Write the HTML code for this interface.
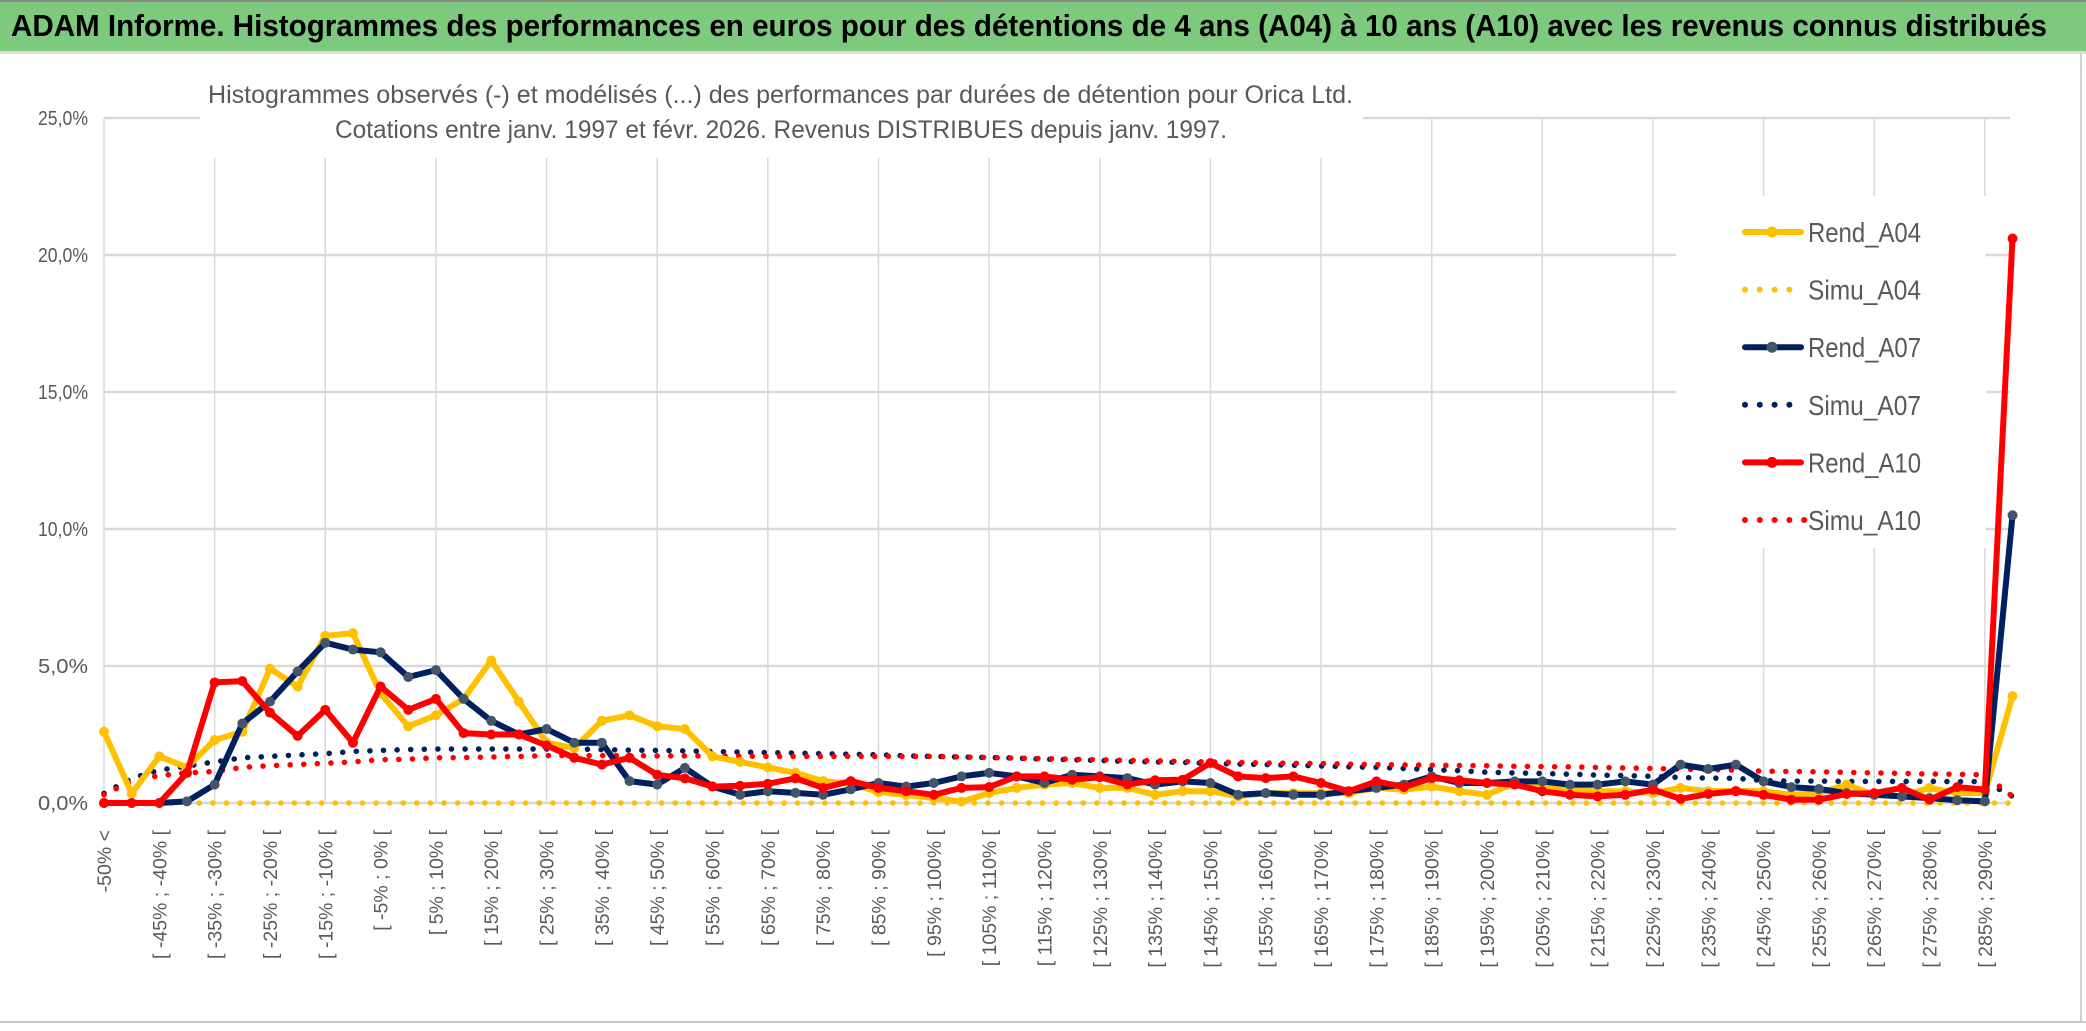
<!DOCTYPE html>
<html><head><meta charset="utf-8"><style>
html,body{margin:0;padding:0;background:#fff;}
svg{display:block;font-family:"Liberation Sans",sans-serif;}
</style></head><body>
<svg id="chart" width="2086" height="1031" viewBox="0 0 2086 1031">
<rect x="0" y="0" width="2086" height="1031" fill="#fff"/>
<rect x="0" y="0" width="2086" height="51" fill="#7DC97D"/>
<rect x="0" y="0" width="2086" height="2" fill="#8a8a8a"/>
<rect x="0" y="51" width="2086" height="3" fill="#dcdcdc"/>
<text x="11" y="36" font-size="31" font-weight="bold" fill="#000" textLength="2036" lengthAdjust="spacingAndGlyphs">ADAM Informe. Histogrammes des performances en euros pour des détentions de 4 ans (A04) à 10 ans (A10) avec les revenus connus distribués</text>
<rect x="2080" y="54" width="2" height="968" fill="#d0d0d0"/>
<rect x="0" y="1021" width="2086" height="2" fill="#c8c8c8"/>
<g id="grid"></g>
<rect x="200" y="62" width="1163" height="96" fill="#fff"/>
<text x="208" y="103" font-size="25" fill="#595959" textLength="1145" lengthAdjust="spacingAndGlyphs">Histogrammes observés (-) et modélisés (...) des performances par durées de détention pour Orica Ltd.</text>
<text x="335" y="138" font-size="25" fill="#595959" textLength="892" lengthAdjust="spacingAndGlyphs">Cotations entre janv. 1997 et févr. 2026. Revenus DISTRIBUES depuis janv. 1997.</text>
<g id="yaxis"></g>
<g id="xaxis"></g>
<g id="series"></g>
<g id="legend"></g>
</svg>
<script>
const categories = (function(){const a=["-50% <"];for(let k=1;k<70;k++){a.push("[ "+(-55+5*k)+"% ; "+(-50+5*k)+"% [");}return a;})();
const yTicks = [0,5,10,15,20,25];
const yTickLabels = ["0,0%","5,0%","10,0%","15,0%","20,0%","25,0%"];
const rendA04 = [2.6,0.35,1.7,1.3,2.3,2.6,4.9,4.25,6.1,6.2,4.0,2.8,3.2,3.8,5.2,3.7,2.2,2.0,3.0,3.2,2.8,2.7,1.7,1.5,1.3,1.1,0.8,0.7,0.4,0.3,0.18,0.05,0.36,0.55,0.67,0.73,0.55,0.55,0.3,0.43,0.43,0.24,0.36,0.36,0.36,0.36,0.55,0.49,0.6,0.43,0.3,0.73,0.6,0.49,0.43,0.43,0.36,0.55,0.43,0.45,0.43,0.3,0.36,0.67,0.3,0.24,0.55,0.36,0.36,3.9];
const simuA04 = new Array(70).fill(0);
const rendA07 = [0,0,0,0.06,0.67,2.9,3.7,4.8,5.85,5.6,5.5,4.6,4.85,3.8,3.0,2.5,2.7,2.2,2.2,0.8,0.67,1.28,0.6,0.3,0.43,0.37,0.3,0.5,0.73,0.6,0.73,0.97,1.1,0.97,0.73,1.03,0.97,0.91,0.67,0.79,0.73,0.3,0.36,0.3,0.3,0.43,0.55,0.67,0.97,0.73,0.73,0.79,0.79,0.67,0.67,0.79,0.67,1.4,1.24,1.4,0.79,0.58,0.51,0.36,0.3,0.24,0.18,0.1,0.06,10.5];
const simuA07 = [0.35,0.9,1.2,1.35,1.5,1.65,1.7,1.75,1.8,1.88,1.92,1.95,1.97,1.97,1.97,1.97,1.97,1.97,1.95,1.93,1.92,1.9,1.88,1.86,1.84,1.82,1.8,1.78,1.76,1.72,1.7,1.68,1.66,1.64,1.6,1.58,1.55,1.52,1.5,1.48,1.45,1.42,1.4,1.38,1.35,1.32,1.3,1.26,1.22,1.18,1.12,1.1,1.08,1.05,1.02,1.0,0.97,0.93,0.91,0.9,0.82,0.8,0.8,0.79,0.79,0.79,0.79,0.78,0.78,0.24];
const rendA10 = [0,0,0,1.1,4.4,4.45,3.3,2.45,3.4,2.2,4.25,3.4,3.8,2.55,2.5,2.5,2.1,1.65,1.4,1.65,1.03,0.9,0.6,0.63,0.7,0.9,0.55,0.8,0.55,0.43,0.3,0.55,0.58,0.97,0.97,0.85,0.94,0.67,0.83,0.85,1.46,0.97,0.91,0.97,0.73,0.43,0.79,0.58,0.91,0.83,0.73,0.67,0.43,0.3,0.24,0.3,0.49,0.15,0.33,0.43,0.3,0.12,0.12,0.33,0.36,0.55,0.12,0.58,0.49,20.6];
const simuA10 = [0.3,0.8,1.0,1.1,1.15,1.3,1.36,1.4,1.45,1.5,1.58,1.6,1.65,1.66,1.68,1.7,1.73,1.73,1.73,1.73,1.72,1.72,1.71,1.71,1.7,1.7,1.7,1.7,1.7,1.7,1.7,1.68,1.66,1.64,1.62,1.6,1.58,1.56,1.54,1.52,1.5,1.48,1.46,1.45,1.44,1.42,1.4,1.39,1.38,1.37,1.36,1.34,1.33,1.32,1.3,1.28,1.26,1.24,1.22,1.2,1.16,1.15,1.14,1.12,1.1,1.08,1.06,1.05,1.03,0.24];

const NS="http://www.w3.org/2000/svg";
const X0=104, DX=27.66, Y0=803, YTOP=118, YMAX=25;
function xScale(i){return X0+i*DX;}
function yScale(v){return Y0-(v/YMAX)*(Y0-YTOP);}
function mk(tag,attrs,parent){const e=document.createElementNS(NS,tag);for(const k in attrs)e.setAttribute(k,attrs[k]);parent.appendChild(e);return e;}

// grid
const grid=document.getElementById('grid');
const xRight=2010;
yTicks.forEach(function(t){
  const l=mk('line',{x1:X0,x2:xRight,y1:yScale(t),y2:yScale(t),stroke:'#d9d9d9','stroke-width':2.5},grid);
  
  
});
for(let i=0;i<categories.length;i+=4){
  const l=mk('line',{x1:xScale(i),x2:xScale(i),y1:YTOP,y2:Y0,stroke:'#d9d9d9','stroke-width':1.5},grid);
  
  
}
// y labels
const ya=document.getElementById('yaxis');
yTicks.forEach(function(t,i){
  const tx=mk('text',{x:88,y:yScale(t)+7,'text-anchor':'end','font-size':20,fill:'#595959',textLength:50,lengthAdjust:'spacingAndGlyphs'},ya);
  tx.textContent=yTickLabels[i];
  
  
});
// x labels
const xa=document.getElementById('xaxis');
for(let i=0;i<categories.length;i+=2){
  const x=xScale(i)+7;
  const tx=mk('text',{x:x,y:830,'text-anchor':'end','font-size':19.5,fill:'#595959',transform:'rotate(-90 '+x+' 830)'},xa);
  tx.textContent=categories[i];
  
  
}
// series
const sg=document.getElementById('series');
function pts(arr){return arr.map(function(v,i){return xScale(i).toFixed(1)+','+yScale(v).toFixed(1);}).join(' ');}
function dotted(arr,color,name){
  const p=mk('polyline',{points:pts(arr),fill:'none',stroke:color,'stroke-width':5.5,'stroke-linecap':'round','stroke-dasharray':'0.1 13.5'},sg);
  
  
}
function solid(arr,color,mcolor,name){
  const p=mk('polyline',{points:pts(arr),fill:'none',stroke:color,'stroke-width':6,'stroke-linejoin':'round'},sg);
  
  
  arr.forEach(function(v,i){
    const c=mk('circle',{cx:xScale(i),cy:yScale(v),r:5,fill:mcolor},sg);
    
    
  });
}
dotted(simuA04,'#FFC000','simu-a04-line');
dotted(simuA07,'#002060','simu-a07-line');
dotted(simuA10,'#FF0000','simu-a10-line');
solid(rendA04,'#FFC000','#FFC000','rend-a04-line');
solid(rendA07,'#002060','#44546A','rend-a07-line');
solid(rendA10,'#FF0000','#FF0000','rend-a10-line');
// legend
const lg=document.getElementById('legend');
const lbg=mk('rect',{x:1676,y:196,width:310,height:352,fill:'#fff'},lg);


const legendNames=["Rend_A04","Simu_A04","Rend_A07","Simu_A07","Rend_A10","Simu_A10"];
const legendColors=["#FFC000","#FFC000","#002060","#002060","#FF0000","#FF0000"];
const legendMarkers=["#FFC000",null,"#44546A",null,"#FF0000",null];
legendNames.forEach(function(n,i){
  const y=232+i*57.6;
  const g=mk('g',{},lg);
  
  
  if(legendMarkers[i]){
    mk('line',{x1:1745,x2:1801,y1:y,y2:y,stroke:legendColors[i],'stroke-width':6,'stroke-linecap':'round'},g);
    mk('circle',{cx:1772,cy:y,r:5.5,fill:legendMarkers[i]},g);
  } else {
    const nd = i===5?5:4;
    for(let k=0;k<nd;k++) mk('circle',{cx:1745+k*14.8,cy:y,r:3,fill:legendColors[i]},g);
  }
  const t=mk('text',{x:1808,y:y+10,'font-size':28,fill:'#595959',textLength:113,lengthAdjust:'spacingAndGlyphs'},g);
  t.textContent=n;
});
</script>
</body></html>
